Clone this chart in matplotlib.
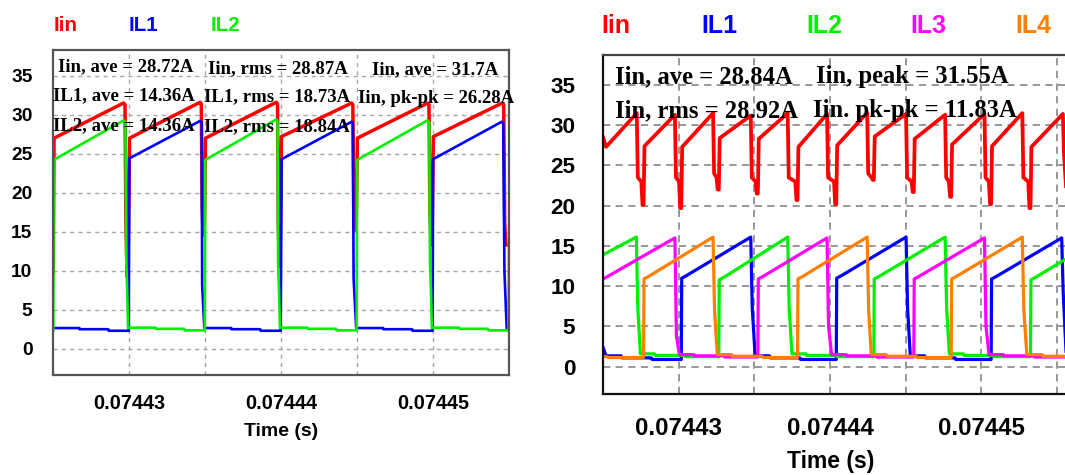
import numpy as np
import matplotlib
matplotlib.use("Agg")
import matplotlib.pyplot as plt
from matplotlib import font_manager

# ---------------- data ----------------
# Time values are given in microseconds; the window starts at 74425 us.
T_START_US = 74425.0

# Two-phase converter: input current and the two inductor currents (A)
left_iin_t = [0.00, 0.05, 4.62, 4.72, 4.78, 4.86, 4.95, 5.02,
              9.66, 9.74, 9.80, 9.87, 9.95, 10.02,
              14.68, 14.76, 14.81, 14.88, 14.95, 15.02,
              19.64, 19.72, 19.78, 19.86, 19.95, 20.02,
              24.65, 24.73, 24.79, 24.87, 24.95, 25.02,
              29.55, 29.65, 29.72, 29.80, 30.00]
left_iin_v = [9.7, 27.0, 31.5, 31.3, 16.0, 9.2, 14.0, 27.0,
              31.6, 31.4, 18.0, 14.5, 16.0, 27.0,
              31.6, 31.4, 16.0, 10.5, 14.0, 27.2,
              31.5, 31.3, 18.0, 15.2, 17.0, 27.0,
              31.5, 31.3, 18.0, 13.3, 16.0, 27.2,
              31.5, 31.3, 16.0, 13.3, 13.3]

left_il1_t = [0.00, 1.71, 1.74, 3.62, 3.65, 4.97, 5.00, 9.66, 9.77, 9.80, 9.94,
              11.71, 11.74, 13.62, 13.65, 14.97,
              15.03, 19.64, 19.72, 19.77, 19.94, 21.71, 21.74, 23.62, 23.65, 24.97,
              25.00, 29.52, 29.62, 29.70, 29.85, 30.00]
left_il1_v = [2.65, 2.65, 2.50, 2.50, 2.30, 2.30, 24.4, 29.2, 29.0, 8.2, 2.65,
              2.65, 2.50, 2.50, 2.30, 2.30,
              24.3, 29.1, 28.9, 9.0, 2.65, 2.65, 2.50, 2.50, 2.30, 2.30,
              24.3, 29.1, 28.9, 9.9, 2.60, 2.60]

left_il2_t = [0.00, 0.02, 4.65, 4.75, 4.80, 4.86, 4.92, 6.71, 6.74, 8.62, 8.65, 9.97,
              10.00, 14.68, 14.76, 14.80, 14.86, 14.92, 16.71, 16.74, 18.62, 18.65, 19.97,
              20.00, 24.65, 24.75, 24.80, 24.86, 24.92, 26.71, 26.74, 28.62, 28.65, 29.97, 30.00]
left_il2_v = [2.35, 24.2, 29.3, 29.0, 11.4, 7.7, 2.70, 2.70, 2.55, 2.55, 2.35, 2.35,
              24.2, 29.4, 29.1, 11.0, 7.5, 2.70, 2.70, 2.55, 2.55, 2.35, 2.35,
              24.2, 29.3, 29.0, 11.0, 7.5, 2.70, 2.70, 2.55, 2.55, 2.35, 2.35, 14.0]

# Four-phase converter: input current and the four inductor currents (A)
right_iin_t = [0.00, 0.20,
               2.23, 2.30, 2.53, 2.61, 2.68, 2.74,
               4.75, 4.82, 5.02, 5.10, 5.17, 5.23,
               7.27, 7.34, 7.50, 7.58, 7.65, 7.71,
               9.76, 9.83, 10.08, 10.16, 10.23, 10.29,
               12.20, 12.27, 12.70, 12.78, 12.85, 12.91,
               14.80, 14.87, 15.26, 15.34, 15.41, 15.47,
               17.45, 17.52, 17.74, 17.82, 17.89, 17.95,
               20.02, 20.09, 20.38, 20.46, 20.53, 20.59,
               22.60, 22.67, 22.85, 22.93, 23.00, 23.06,
               25.20, 25.27, 25.49, 25.57, 25.64, 25.70,
               27.70, 27.77, 28.09, 28.17, 28.24, 28.30,
               30.38, 30.45, 30.60, 31.00]
right_iin_v = [28.5, 27.3,
               31.5, 23.5, 23.0, 20.1, 20.1, 27.4,
               31.3, 23.5, 23.0, 19.7, 19.7, 27.3,
               31.5, 24.0, 23.5, 22.0, 22.0, 28.4,
               31.2, 23.5, 23.0, 21.5, 21.5, 28.3,
               31.5, 23.5, 23.0, 20.7, 20.7, 27.3,
               31.4, 23.5, 23.0, 20.2, 20.2, 27.5,
               31.55, 24.0, 23.5, 23.2, 23.2, 28.6,
               31.4, 23.5, 23.0, 21.7, 21.7, 28.3,
               31.3, 23.5, 23.0, 21.1, 21.1, 27.6,
               31.4, 23.5, 23.0, 20.2, 20.2, 27.4,
               31.5, 23.5, 23.0, 19.7, 19.7, 27.3,
               31.4, 26.5, 22.0, 22.0]

right_il1_t = [0.00, 0.20, 1.20, 1.25, 3.20, 3.25, 5.17, 5.20, 5.50, 9.76, 9.86, 10.05,
               11.00, 11.05, 13.00, 13.05, 15.41, 15.44, 15.74, 20.02, 20.12, 20.30,
               21.25, 21.30, 23.25, 23.30, 25.64, 25.67, 25.97, 30.30, 30.40, 30.60, 31.00]
right_il1_v = [2.40, 1.35, 1.35, 1.10, 1.10, 0.90, 0.90, 11.00, 11.30, 16.10, 7.30, 1.35,
               1.35, 1.10, 1.10, 0.90, 0.90, 11.00, 11.30, 16.10, 7.30, 1.35,
               1.35, 1.10, 1.10, 0.90, 0.90, 10.90, 11.20, 16.00, 9.30, 1.35, 1.35]

right_il2_t = [0.00, 2.20, 2.30, 2.47, 3.40, 3.45, 5.40, 5.45, 7.65, 7.68, 7.98,
               12.20, 12.30, 12.48, 13.40, 13.45, 15.40, 15.45, 17.89, 17.92, 18.22,
               22.60, 22.70, 22.88, 23.80, 23.85, 25.80, 25.85, 28.24, 28.27, 28.57, 30.51, 31.00]
right_il2_v = [13.90, 16.10, 7.30, 1.60, 1.60, 1.40, 1.40, 1.25, 1.25, 10.80, 11.10,
               16.10, 7.30, 1.60, 1.60, 1.40, 1.40, 1.25, 1.25, 10.90, 11.20,
               16.10, 7.30, 1.60, 1.60, 1.40, 1.40, 1.25, 1.25, 10.80, 11.10, 13.30, 13.90]

right_il3_t = [0.00, 0.30, 4.75, 4.85, 5.05, 6.00, 6.05, 8.00, 8.05, 10.23, 10.26, 10.56,
               14.80, 14.90, 15.10, 16.05, 16.10, 18.05, 18.10, 20.53, 20.56, 20.86,
               25.20, 25.30, 25.50, 26.45, 26.50, 28.45, 28.50, 31.00]
right_il3_v = [10.90, 11.20, 16.00, 3.80, 1.50, 1.50, 1.35, 1.35, 1.20, 1.20, 10.90, 11.20,
               16.00, 5.00, 1.50, 1.50, 1.35, 1.35, 1.20, 1.20, 10.90, 11.20,
               16.00, 5.00, 1.50, 1.50, 1.35, 1.35, 1.20, 1.20]

right_il4_t = [0.00, 0.40, 2.68, 2.71, 3.00, 7.27, 7.37, 7.55, 8.50, 8.55, 10.50, 10.55,
               12.85, 12.88, 13.18, 17.45, 17.55, 17.72, 18.70, 18.75, 20.70, 20.75,
               23.00, 23.03, 23.33, 27.70, 27.80, 28.00, 29.00, 29.05, 31.00]
right_il4_v = [1.35, 1.15, 1.15, 10.90, 11.20, 16.10, 7.00, 1.50, 1.50, 1.30, 1.30, 1.15,
               1.15, 10.90, 11.20, 16.10, 7.00, 1.50, 1.50, 1.30, 1.30, 1.15,
               1.15, 10.90, 11.20, 16.10, 7.00, 1.50, 1.50, 1.30, 1.30]

# Axis ticks
x_major_ticks = [0.07443, 0.07444, 0.07445]
x_major_labels = ["0.07443", "0.07444", "0.07445"]
x_minor_ticks = [0.074435, 0.074445, 0.074455]
y_ticks = [0, 5, 10, 15, 20, 25, 30, 35]
y_labels = ["0", "5", "10", "15", "20", "25", "30", "35"]
x_title = "Time (s)"

left_names = ["Iin", "IL1", "IL2"]
right_names = ["Iin", "IL1", "IL2", "IL3", "IL4"]

left_notes = [["Iin, ave = 28.72A", "IL1, ave = 14.36A", "IL2, ave = 14.36A"],
              ["Iin, rms = 28.87A", "IL1, rms = 18.73A", "IL2, rms = 18.84A"],
              ["Iin, ave = 31.7A", "Iin, pk-pk = 26.28A"]]
right_notes = [["Iin, ave = 28.84A", "Iin, rms = 28.92A"],
               ["Iin, peak = 31.55A", "Iin. pk-pk = 11.83A"]]

# ---------------- styling ----------------
RED, BLUE, GREEN, MAGENTA, ORANGE = "#ff0000", "#0000ff", "#00f000", "#ff00ff", "#ff8000"

installed = {f.name for f in font_manager.fontManager.ttflist}
NARROW = "Liberation Sans Narrow" if "Liberation Sans Narrow" in installed else "Liberation Sans"
narrow_scale = 1.0 if NARROW == "Liberation Sans Narrow" else 0.87
SANS = "Liberation Sans"
SERIF = "Liberation Serif"

W, H = 1065, 475
fig = plt.figure(figsize=(W / 100, H / 100), dpi=100)
fig.patch.set_facecolor("white")


def fx(px):
    return px / W


def fy(py):
    return 1 - py / H


def to_seconds(t_us):
    return (T_START_US + np.asarray(t_us)) * 1e-6


def style_axes(ax, spine_color, spine_lw, grid_color, grid_dash, grid_lw,
               tick_family, ytick_size, xtick_size, ypad, xpad):
    ax.set_xticks(x_major_ticks)
    ax.set_xticklabels(x_major_labels)
    ax.set_xticks(x_minor_ticks, minor=True)
    ax.set_yticks(y_ticks)
    ax.set_yticklabels(y_labels)
    ax.tick_params(which="both", length=0)
    ax.tick_params(axis="y", pad=ypad)
    ax.tick_params(axis="x", pad=xpad)
    for lab in ax.get_yticklabels():
        lab.set_fontfamily(tick_family)
        lab.set_fontweight("bold")
        lab.set_fontsize(ytick_size)
    for lab in ax.get_xticklabels():
        lab.set_fontfamily(tick_family)
        lab.set_fontweight("bold")
        lab.set_fontsize(xtick_size)
    ax.grid(True, which="both", color=grid_color, linestyle=(0, grid_dash), linewidth=grid_lw)
    ax.set_axisbelow(True)
    for s in ax.spines.values():
        s.set_color(spine_color)
        s.set_linewidth(spine_lw)
        s.set_zorder(6)


# ---------------- left panel: two phases ----------------
axL = fig.add_axes([fx(53.3), fy(375), fx(509) - fx(53.3), fy(50) - fy(375)])
axL.set_xlim(0.074425, 0.074455)
axL.set_ylim(-3.37, 38.3)
axL.plot(to_seconds(left_iin_t), left_iin_v, color=RED, lw=2.5, zorder=2)
axL.plot(to_seconds(left_il1_t), left_il1_v, color=BLUE, lw=1.9, zorder=3)
axL.plot(to_seconds(left_il2_t), left_il2_v, color=GREEN, lw=1.9, zorder=4)
style_axes(axL, "#555555", 1.6, "#a8a8a8", (3, 3), 1.0,
           NARROW, 15.8 * narrow_scale, 16.5 * narrow_scale, 15, 14)
axL.set_xlabel(x_title, fontfamily=NARROW, fontweight="bold",
               fontsize=16 * narrow_scale, va="top")
axL.xaxis.set_label_coords(0.5, (375 - 423) / 325)

# ---------------- right panel: four phases ----------------
axR = fig.add_axes([fx(603), fy(394), fx(1070) - fx(603), fy(55) - fy(394)])
axR.set_xlim(0.074425, 0.074425 + 30.85e-6)
axR.set_ylim(-3.39, 38.72)
axR.plot(to_seconds(right_iin_t), right_iin_v, color=RED, lw=2.7, zorder=2)
axR.plot(to_seconds(right_il1_t), right_il1_v, color=BLUE, lw=2.3, zorder=3)
axR.plot(to_seconds(right_il2_t), right_il2_v, color=GREEN, lw=2.3, zorder=4)
axR.plot(to_seconds(right_il3_t), right_il3_v, color=MAGENTA, lw=2.3, zorder=5)
axR.plot(to_seconds(right_il4_t), right_il4_v, color=ORANGE, lw=2.3, zorder=5)
style_axes(axR, "#111111", 1.6, "#909090", (4, 3), 1.3,
           SANS, 16.2, 17.3, 20, 16.5)
axR.spines["top"].set_color("#444444")
axR.set_xlabel(x_title, fontfamily=SANS, fontweight="bold", fontsize=16.5, va="top")
axR.xaxis.set_label_coords((831 - 603) / 467, (394 - 450) / 339)

# ---------------- trace names above panels ----------------
for name, color, x in zip(left_names, [RED, BLUE, GREEN], [53.3, 128.3, 210.7]):
    fig.text(fx(x), fy(30.7), name, color=color, fontfamily=NARROW, fontweight="bold",
             fontsize=17 * narrow_scale, ha="left", va="baseline")
for name, color, x in zip(right_names, [RED, BLUE, GREEN, MAGENTA, ORANGE],
                          [601.7, 701.7, 806, 910, 1015]):
    fig.text(fx(x), fy(33.3), name, color=color, fontfamily=SANS, fontweight="bold",
             fontsize=18, ha="left", va="baseline")

# ---------------- measurement notes ----------------
left_cols = [[(57.7, 71.5), (53.3, 100.5), (53.3, 130)],
             [(208.3, 73.5), (204, 101.5), (204, 131)],
             [(371.7, 74), (358.3, 103)]]
for col_txt, col_pos in zip(left_notes, left_cols):
    for s, (x, y) in zip(col_txt, col_pos):
        fig.text(fx(x), fy(y), s, color="black", fontfamily=SERIF, fontweight="bold",
                 fontsize=13.5, ha="left", va="baseline", zorder=10)

right_cols = [[(615, 83.3), (615, 117.3)],
              [(816, 83.3), (812.7, 117.3)]]
for col_txt, col_pos in zip(right_notes, right_cols):
    for s, (x, y) in zip(col_txt, col_pos):
        fig.text(fx(x), fy(y), s, color="black", fontfamily=SERIF, fontweight="bold",
                 fontsize=17.7, ha="left", va="baseline", zorder=10)

fig.savefig("out.png", dpi=100, facecolor="white")
